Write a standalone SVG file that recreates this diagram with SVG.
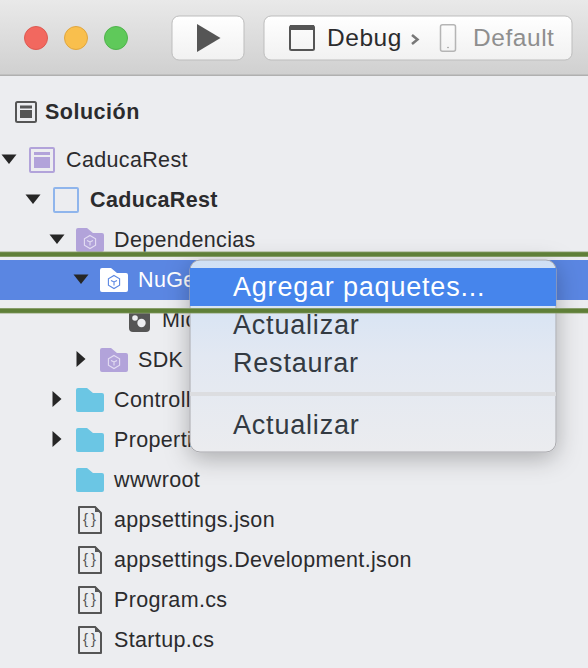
<svg xmlns="http://www.w3.org/2000/svg" width="588" height="668" viewBox="0 0 588 668">
<style>
text{font-family:"Liberation Sans",Arial,sans-serif;fill:#2b2b2d}
.t{font-size:21.5px;letter-spacing:.35px}
.m{font-size:27px;letter-spacing:.8px;fill:#333a42}
.b{font-weight:700}
.tri{fill:#262626}
.pf{fill:#b2a3da}
.bf{fill:#6bc6e4}
.doc{fill:none;stroke:#555;stroke-width:2}
.br{font-size:15px;letter-spacing:3px;fill:#555}
.btn{fill:url(#bt);stroke:#bdbdbd;stroke-width:1}
.tb{font-size:24.5px;letter-spacing:.55px}
</style>
<defs>
<linearGradient id="tb" x1="0" y1="0" x2="0" y2="1"><stop offset="0" stop-color="#e9e9e9"/><stop offset="1" stop-color="#d0d0d0"/></linearGradient>
<linearGradient id="bt" x1="0" y1="0" x2="0" y2="1"><stop offset="0" stop-color="#ffffff"/><stop offset="1" stop-color="#f1f1f1"/></linearGradient>
<linearGradient id="mg" x1="0" y1="0" x2="0" y2="1"><stop offset="0" stop-color="#cfe0f5"/><stop offset=".5" stop-color="#e2e8f2"/><stop offset="1" stop-color="#ebecef"/></linearGradient>
<filter id="sh" x="-15%" y="-15%" width="130%" height="140%"><feDropShadow dx="0" dy="6" stdDeviation="12" flood-color="#000" flood-opacity=".28"/></filter>
<path id="folder" d="M0 2a2 2 0 0 1 2-2h9l6 5h9a2 2 0 0 1 2 2v15a2 2 0 0 1-2 2H2a2 2 0 0 1-2-2z"/>
<g id="docicon"><path class="doc" d="M1 1H17L23 7V27H1Z" stroke-linejoin="round"/><path d="M17 0l6 6h-6z" fill="#555"/><text class="br" x="5" y="18">{}</text></g>
<g id="pkg"><path d="M0-6.500 5.600-3.200V3.200L0 6.500-5.600 3.200V-3.200Z M-3-1.500 0 0 3-1.500M0 0V3.500" fill="none" stroke-width="1.100"/></g>
</defs>
<rect width="588" height="668" fill="#ecedf0"/>
<g id="toolbar">
<rect width="588" height="75" fill="url(#tb)"/>
<rect y="74.500" width="588" height="1.500" fill="#b0b0b0"/>
<circle cx="36" cy="38" r="11.500" fill="#f2685f" stroke="#dd5a52"/>
<circle cx="76" cy="38" r="11.500" fill="#f9bf4d" stroke="#e0a63f"/>
<circle cx="116" cy="38" r="11.500" fill="#5fc95a" stroke="#4fb34c"/>
</g>
<g id="run"><rect class="btn" x="172" y="16" width="72" height="44" rx="7"/><path d="M197 24 220.500 38 197 52Z" fill="#555"/></g>
<g id="config"><rect class="btn" x="264" y="16" width="308" height="44" rx="7"/>
<rect x="290" y="26" width="24" height="24" rx="1.500" fill="none" stroke="#555" stroke-width="2"/><rect x="290" y="25" width="24" height="5" fill="#555"/>
<text class="tb" x="327" y="46">Debug</text>
<path d="M412 35l5.500 4.500-5.500 4.500" fill="none" stroke="#777" stroke-width="2.500"/>
<rect x="440.500" y="24.700" width="15" height="26.600" rx="2" fill="none" stroke="#b5b5b5" stroke-width="1.500"/><circle cx="448" cy="47.500" r=".8" fill="#999"/>
<text class="tb" x="473" y="46" style="fill:#8e8e8e">Default</text></g>
<g id="solucion"><rect x="16" y="102" width="20" height="20" rx="1.500" fill="none" stroke="#555" stroke-width="2"/><rect x="20" y="105.500" width="12" height="3" fill="#555"/><rect x="20" y="110" width="12" height="8" fill="#555"/>
<text class="b" x="45" y="119" style="font-size:21.5px;letter-spacing:.5px">Solución</text></g>
<g id="sol-caducarest"><path class="tri" d="M1.500 154.500H16.500L9 164Z"/><rect x="30" y="148" width="24" height="24" fill="none" stroke="#b2a3da" stroke-width="2" rx="1"/><rect x="34" y="152" width="16" height="3" fill="#b2a3da"/><rect x="34" y="157" width="16" height="11" fill="#b2a3da"/><text class="t" x="66" y="167">CaducaRest</text></g>
<g id="proj-caducarest"><path class="tri" d="M25.500 194.500H40.500L33 204Z"/><rect x="54" y="188" width="24" height="24" fill="none" stroke="#8fb5ec" stroke-width="2" rx="1"/><text class="t b" x="90" y="207">CaducaRest</text></g>
<g id="dependencias"><path class="tri" d="M49.500 234.500H64.500L57 244Z"/><use href="#folder" x="76" y="228" class="pf"/><use href="#pkg" x="90" y="242" stroke="#e4def3"/><text class="t" x="114" y="247">Dependencias</text></g>
<g id="nuget"><rect y="260" width="588" height="40" fill="#5a86e2"/><path class="tri" d="M73.500 274.500H88.500L81 284Z"/><use href="#folder" x="100" y="268" fill="#fff"/><use href="#pkg" x="114" y="282" stroke="#5a86e2"/><text class="t" x="138" y="287" style="fill:#fff">NuGe</text></g>
<g id="ms"><path d="M133 310h13a4 4 0 0 1 4 4v14a4 4 0 0 1-4 4h-13a4 4 0 0 1-4-4v-14a4 4 0 0 1 4-4z" fill="#555"/><circle cx="135" cy="318" r="2.800" fill="#ecedf0"/><circle cx="141.500" cy="323" r="4.200" fill="#ecedf0"/><text class="t" x="162" y="327">Mic</text></g>
<g id="sdk"><path class="tri" d="M76.500 351V367L85.500 359Z"/><use href="#folder" x="100" y="348" class="pf"/><use href="#pkg" x="114" y="362" stroke="#e4def3"/><text class="t" x="138" y="367">SDK</text></g>
<g id="controllers"><path class="tri" d="M52.500 391V407L61.500 399Z"/><use href="#folder" x="76" y="388" class="bf"/><text class="t" x="114" y="407">Controll</text></g>
<g id="properties"><path class="tri" d="M52.500 431V447L61.500 439Z"/><use href="#folder" x="76" y="428" class="bf"/><text class="t" x="114" y="447">Properti</text></g>
<g id="wwwroot"><use href="#folder" x="76" y="468" class="bf"/><text class="t" x="114" y="487">wwwroot</text></g>
<g id="appsettings"><use href="#docicon" x="78" y="506"/><text class="t" x="114" y="527">appsettings.json</text></g>
<g id="appsettingsdev"><use href="#docicon" x="78" y="546"/><text class="t" x="114" y="567">appsettings.Development.json</text></g>
<g id="program"><use href="#docicon" x="78" y="586"/><text class="t" x="114" y="607">Program.cs</text></g>
<g id="startup"><use href="#docicon" x="78" y="626"/><text class="t" x="114" y="647">Startup.cs</text></g>
<g id="menu"><rect x="190" y="260" width="366" height="192" rx="10" fill="url(#mg)" stroke="#a9a9ad" filter="url(#sh)"/>
<rect x="190" y="268" width="366" height="38" fill="#4685ec"/>
<rect x="190" y="392" width="366" height="4" fill="#dcdde0"/>
<text class="m" x="233" y="296" style="fill:#fff">Agregar paquetes...</text>
<text class="m" x="233" y="334">Actualizar</text>
<text class="m" x="233" y="372">Restaurar</text>
<text class="m" x="233" y="434">Actualizar</text></g>
<g id="highlight"><rect y="251.500" width="588" height="5.500" fill="#93a678"/><rect y="252.300" width="588" height="4" fill="#5f7f38"/><rect y="308" width="588" height="5.500" fill="#93a678"/><rect y="308.800" width="588" height="4" fill="#5f7f38"/></g>
</svg>
